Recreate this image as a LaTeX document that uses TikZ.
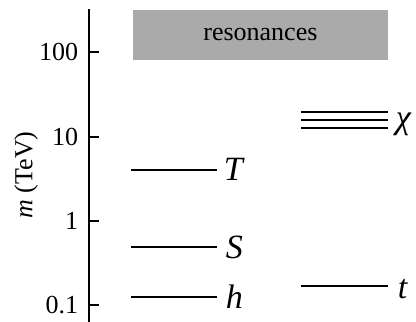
\documentclass[tikz,border=0pt]{standalone}
\usepackage{fontspec}
\setmainfont{Liberation Serif}
\usetikzlibrary{positioning}
\definecolor{resgray}{RGB}{170,170,170}
\begin{document}
\begin{tikzpicture}[x=1pt, y=-1pt, line width=1.8pt,
    font=\fontsize{26}{30}\selectfont,
    particle/.style={inner sep=0pt, anchor=base west, font=\fontsize{34}{38}\selectfont\itshape}]
    \useasboundingbox (0,0) rectangle (416,322);

    % mass axis
    \draw (89,9) -- (89,322);
    \foreach \y/\lab [count=\i] in {52/100, 137/10, 221/1, 305/0.1} {
        \draw (89,\y) -- (99,\y);
        \node[anchor=east, inner sep=0pt] (tick\i) at (79,\y) {\lab};
    }
    \node[rotate=90] (mlabel) at (26,175) {\textit{m} (TeV)};

    \node[fill=resgray, anchor=north west, minimum width=255pt, minimum height=50pt, inner sep=0pt] (res) at (132,9) {resonances};

    % composite states
    \node[particle] (T) at (223,180) {T};
    \node[particle] (S) at (225,258) {S};
    \node[particle] (h) at (225,308) {h};
    \draw (131,170) -- (217,170);
    \draw (131,247) -- (217,247);
    \draw (131,297) -- (217,297);

    % top partners
    \node[particle] (chi) at (395,128) {χ};
    \node[particle] (t) at (397,298) {t};
    \foreach \y in {112, 120, 128}
        \draw[line width=1.5pt] (301,\y) -- (388,\y);
    \draw (301,286) -- (388,286);
\end{tikzpicture}
\end{document}
